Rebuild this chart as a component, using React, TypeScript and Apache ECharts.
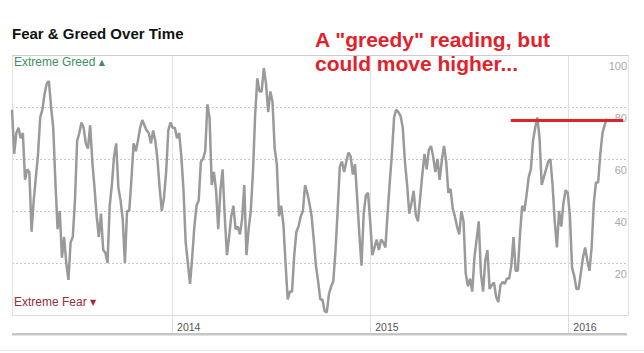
import React, { useEffect, useRef } from 'react';
import * as echarts from 'echarts';

// Sampled every 4 days starting 2013-03-12
const startDate = [2013, 2, 12];
const stepDays = 4;
const fearGreedValues = [
  79, 62, 70, 72, 68, 70, 52, 56, 55, 32,
  44, 53, 62, 76, 79, 85, 89, 90, 80, 72,
  51, 33, 40, 22, 30, 20, 13.5, 28, 30, 44,
  67, 70, 74, 72, 66, 64, 73, 59, 49, 38,
  30, 39, 25, 24, 20, 42, 50, 61, 66, 49,
  44, 37, 20, 40, 40, 52, 66, 63, 67, 72,
  75, 73, 71, 70, 66, 71, 67, 60, 49, 40,
  45, 55, 71, 74, 72, 72, 68, 70, 61, 48,
  28, 20, 12, 22, 34, 42, 44, 59, 60, 63,
  81, 76, 50, 55, 48, 33, 48, 56, 38, 23,
  30, 38, 42, 33, 34, 31, 37, 50, 23, 33,
  40, 55, 77, 91, 86, 86, 95, 89, 78, 86,
  82, 64, 58, 38, 42, 35, 20, 6, 9, 9,
  23, 32, 34, 38, 40, 50, 47, 43, 38, 29,
  19, 13, 6, 6, 1.5, 1, 8, 11, 13, 24.5,
  40, 57, 59, 55, 59, 62.5, 61, 54, 58, 45,
  31, 19, 39, 46, 47, 36, 23, 26, 29, 25,
  29, 28, 26, 39, 51, 62, 76, 79, 78, 76.5,
  72, 59, 50, 39, 43, 47.7, 38.5, 36, 45, 54,
  62, 56, 63.5, 65, 61, 55, 60, 52, 59.5, 65,
  59, 47, 48.5, 41, 38, 34, 31, 40, 36, 16,
  11, 14, 9, 22, 29, 36, 16, 9, 21, 25,
  10, 11.5, 12.5, 7, 5, 11.5, 12.7, 12, 14, 14,
  19, 30, 17, 17, 31, 42, 40, 46, 53, 56,
  67, 72, 76, 68, 50, 53, 56, 59, 60, 50,
  36, 26, 40, 34, 43, 48, 47, 38, 18, 15,
  10, 10, 16, 22, 26, 21, 17, 26, 43, 51,
  51, 62, 70, 73, 75.5,
];

const xAxisRange = ['2013-03-12', '2016-04-20'];
const yTicks = [0, 20, 40, 60, 80, 100];
const annotationFrom = '2015-09-17';
const annotationTo = '2016-04-11';
const annotationLevel = 75;

const titleText = 'Fear & Greed Over Time';
const annotationText = ['A "greedy" reading, but', 'could move higher...'];
const greedLabel = 'Extreme Greed';
const fearLabel = 'Extreme Fear';

function parseDay(s: string) {
  const [y, m, d] = s.split('-').map(Number);
  return new Date(y, m - 1, d).getTime();
}

export default function App() {
  const ref = useRef<HTMLDivElement>(null);
  useEffect(() => {
    const chart = echarts.init(ref.current!, null, { renderer: 'svg' });
    const t0 = new Date(startDate[0], startDate[1], startDate[2]).getTime();
    const DAY = 86400000;
    const seriesData = fearGreedValues.map((v, i) => [t0 + i * stepDays * DAY, v]);
    const font = 'Liberation Sans, Arial, sans-serif';
    chart.setOption({
      animation: false,
      grid: { left: 12, right: 16, top: 55, bottom: 38 },
      xAxis: {
        type: 'time',
        min: parseDay(xAxisRange[0]),
        max: parseDay(xAxisRange[1]),
        minInterval: 365 * DAY,
        maxInterval: 366 * DAY,
        axisLine: { lineStyle: { color: '#dcdcdc', width: 1 } },
        axisTick: { show: true, length: 18, lineStyle: { color: '#dedede' } },
        splitLine: { show: true, lineStyle: { color: '#e2e2e2', width: 1 } },
        axisLabel: {
          formatter: (v: number) => String(new Date(v).getFullYear()),
          align: 'left',
          padding: [0, 0, 0, 5],
          margin: 6,
          color: '#555',
          fontSize: 10.5,
          fontFamily: font,
          showMinLabel: false,
          showMaxLabel: false,
        },
      },
      yAxis: {
        type: 'value',
        position: 'right',
        min: yTicks[0],
        max: yTicks[yTicks.length - 1],
        interval: 20,
        axisLine: { show: false },
        axisTick: { show: false },
        splitLine: { show: true, lineStyle: { color: '#c8c8c8', type: [2, 2], width: 1 } },
        axisLabel: {
          inside: true,
          margin: 1,
          showMinLabel: false,
          verticalAlign: 'top',
          padding: [5, 0, 0, 0],
          color: '#a8a8a8',
          fontSize: 11,
          fontFamily: font,
        },
      },
      series: [
        {
          type: 'line',
          data: seriesData,
          showSymbol: false,
          symbol: 'none',
          lineStyle: { color: '#9a9a9a', width: 2.5 },
          itemStyle: { color: '#9a9a9a' },
          markLine: {
            silent: true,
            symbol: ['none', 'none'],
            label: { show: false },
            data: [
              { yAxis: yTicks[yTicks.length - 1], lineStyle: { color: '#cccccc', width: 1, type: 'solid' } },
              [
                { coord: [parseDay(annotationFrom), annotationLevel], lineStyle: { color: '#e2222b', width: 3, type: 'solid' } },
                { coord: [parseDay(annotationTo), annotationLevel] },
              ],
            ],
          },
        },
      ],
      graphic: [
        {
          type: 'text', left: 12, top: 26,
          style: { text: titleText, font: `bold 15px ${font}`, fill: '#111' },
        },
        {
          type: 'text', x: 315, y: 27,
          style: { text: annotationText.join('\n'), font: `bold 21px ${font}`, fill: '#e2222b', lineHeight: 24 },
        },
        {
          type: 'text', x: 14, y: 56,
          style: {
            text: `{a|${greedLabel}} {b|▲}`,
            rich: {
              a: { fontSize: 12, fontFamily: font, fill: '#3f8f5a', color: '#3f8f5a' },
              b: { fontSize: 8, fontFamily: 'DejaVu Sans', fill: '#3f8f5a', color: '#3f8f5a' },
            },
          },
        },
        {
          type: 'text', x: 14, y: 296,
          style: {
            text: `{a|${fearLabel}} {b|▼}`,
            rich: {
              a: { fontSize: 12, fontFamily: font, fill: '#93303c', color: '#93303c' },
              b: { fontSize: 8, fontFamily: 'DejaVu Sans', fill: '#a02a38', color: '#a02a38' },
            },
          },
        },
        {
          type: 'rect', shape: { x: 12, y: 333, width: 615, height: 2.5 },
          style: { fill: '#c6c6c6' },
        },
        {
          type: 'line', shape: { x1: 0, y1: 350.5, x2: 644, y2: 350.5 },
          style: { stroke: '#e6e6e6', lineWidth: 1 },
        },
      ],
    });
    return () => chart.dispose();
  }, []);
  return (
    <div
      ref={ref}
      style={{ position: 'absolute', left: 0, top: 0, width: 644, height: 353, background: '#fff' }}
    />
  );
}
